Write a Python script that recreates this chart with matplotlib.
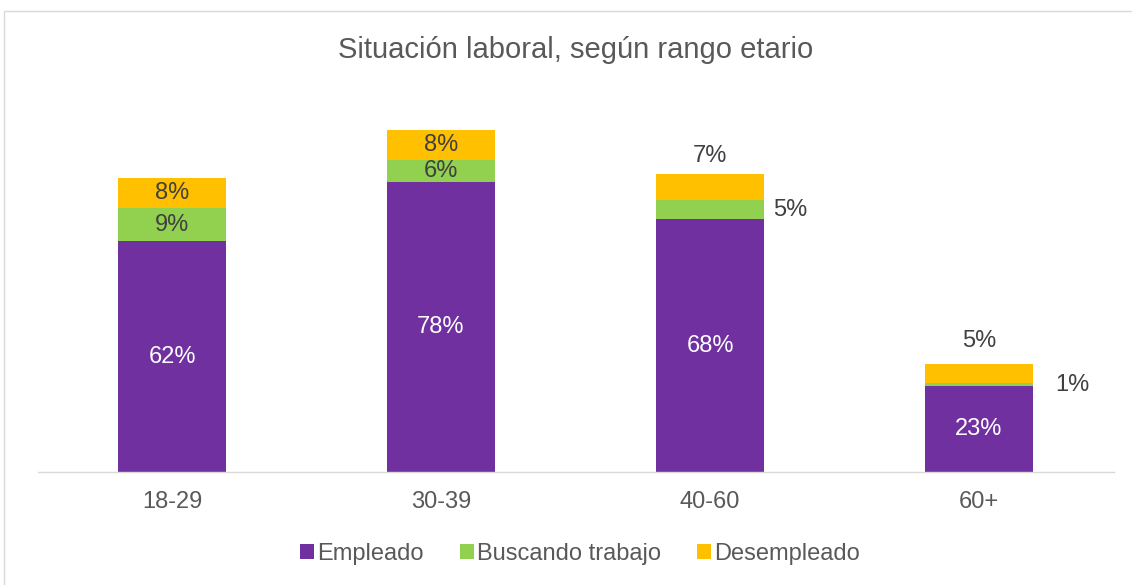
import matplotlib
matplotlib.use("Agg")
import matplotlib.pyplot as plt
from matplotlib.patches import Rectangle
import numpy as np

plt.rcParams['font.family'] = ['Liberation Sans', 'DejaVu Sans']

categories = ["18-29", "30-39", "40-60", "60+"]
empleado = [62, 78, 68, 23]
buscando = [9, 6, 5, 1]
desempleado = [8, 8, 7, 5]
series_names = ["Empleado", "Buscando trabajo", "Desempleado"]
colors = ["#7030A0", "#92D050", "#FFC000"]

fig = plt.figure(figsize=(11.32, 5.85), dpi=100)
fig.patches.append(Rectangle((4/1132, -0.1), 1.2, 1.1 - 11/585, transform=fig.transFigure,
                             fill=False, edgecolor="#D9D9D9", linewidth=1.0))
ax = fig.add_axes([37.5/1132, (585-472)/585, 1076/1132, 372/585])

x = np.arange(len(categories))
w = 0.4
b1 = ax.bar(x, empleado, w, color=colors[0], label=series_names[0])
b2 = ax.bar(x, buscando, w, bottom=empleado, color=colors[1], label=series_names[1])
bot3 = [a + b for a, b in zip(empleado, buscando)]
b3 = ax.bar(x, desempleado, w, bottom=bot3, color=colors[2], label=series_names[2])

fs = 17
txt = "#404040"
side_offsets = {2: 6.5, 3: 16}
top_offsets = {2: 13, 3: 17}
for i in range(len(categories)):
    ax.text(x[i], empleado[i] / 2, f"{empleado[i]}%", ha="center", va="center", color="white", fontsize=fs)
    if i < 2:
        ax.text(x[i], empleado[i] + buscando[i] / 2, f"{buscando[i]}%", ha="center", va="center", color=txt, fontsize=fs)
        ax.text(x[i], bot3[i] + desempleado[i] / 2, f"{desempleado[i]}%", ha="center", va="center", color=txt, fontsize=fs)
    else:
        ax.annotate(f"{buscando[i]}%", (x[i] + w / 2, empleado[i] + buscando[i] / 2),
                    xytext=(side_offsets[i], 0), textcoords="offset points",
                    ha="left", va="center", color=txt, fontsize=fs)
        ax.annotate(f"{desempleado[i]}%", (x[i], bot3[i] + desempleado[i]),
                    xytext=(0, top_offsets[i]), textcoords="offset points",
                    ha="center", va="center", color=txt, fontsize=fs)

ax.set_xlim(-0.5, len(categories) - 0.5)
ax.set_ylim(0, 100)
ax.set_yticks([])
ax.set_xticks(x)
ax.set_xticklabels(categories, fontsize=17, color="#595959")
ax.tick_params(axis="x", length=0, pad=14)
for s in ["top", "right", "left"]:
    ax.spines[s].set_visible(False)
ax.spines["bottom"].set_color("#D9D9D9")
ax.spines["bottom"].set_linewidth(1.0)

fig.text(576/1132, 1 - 50/585, "Situación laboral, según rango etario", ha="center", va="center",
         fontsize=21, color="#595959")

leg = fig.legend(handles=[b1, b2, b3], labels=series_names, loc="center", ncol=3,
                 bbox_to_anchor=(580/1132, 1 - 554/585), frameon=False, fontsize=17,
                 handlelength=0.6, handleheight=0.6, handletextpad=0.15, columnspacing=1.5)
for t in leg.get_texts():
    t.set_color("#595959")

fig.savefig("out.png", dpi=100)
